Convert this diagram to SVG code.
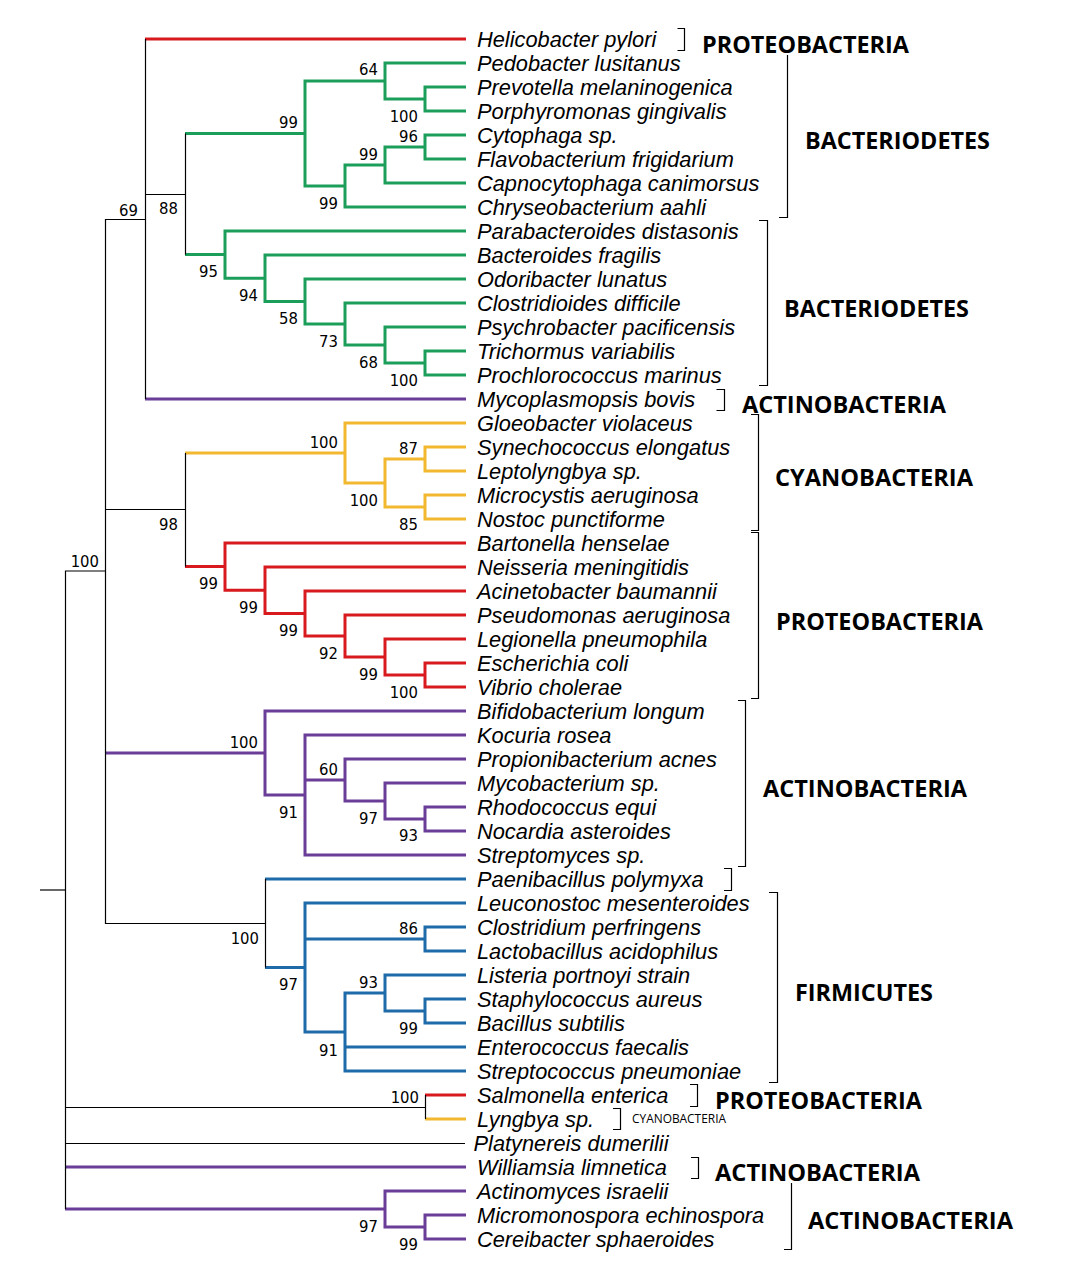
<svg xmlns="http://www.w3.org/2000/svg" width="1089" height="1264" viewBox="0 0 1089 1264">
<style>
.b{fill:none;stroke-width:3;stroke-linejoin:miter;stroke-linecap:butt}
.g{stroke:#1c9e5b}.r{stroke:#d81a1e}.y{stroke:#f2b830}.p{stroke:#6a3d98}.u{stroke:#1f6aa8}
.k{fill:none;stroke:#000;stroke-width:1.2}
.br{fill:none;stroke:#000;stroke-width:1.2}
.t{font-family:"Liberation Sans",Arial,sans-serif;font-style:italic;font-size:21.8px;fill:#000}
.s{font-family:"DejaVu Sans Condensed","DejaVu Sans","Noto Sans",sans-serif;font-size:16.5px;fill:#000;text-anchor:end}
.c{font-family:"Open Sans","Noto Sans",sans-serif;font-weight:700;font-size:24px;fill:#000}
.cs{font-family:"Open Sans","Noto Sans",sans-serif;font-size:12px;fill:#000}
</style>
<rect width="1089" height="1264" fill="#fff"/>
<g id="connectors">
<g id="green">
<path class="b g" d="M185,133.5 H305 M185,254.6 H225"/>
<path class="b g" d="M385,81 H305 V186 H345"/>
<path class="b g" d="M466,63 H385 V99 H425"/>
<path class="b g" d="M466,87 H425 V111 H466"/>
<path class="b g" d="M385,165 H345 V207 H466"/>
<path class="b g" d="M425,147 H385 V183 H466"/>
<path class="b g" d="M466,135 H425 V159 H466"/>
<path class="b g" d="M466,231 H225 V278.25 H265"/>
<path class="b g" d="M466,255 H265 V301.5 H305"/>
<path class="b g" d="M466,279 H305 V324 H345"/>
<path class="b g" d="M466,303 H345 V345 H385"/>
<path class="b g" d="M466,327 H385 V363 H425"/>
<path class="b g" d="M466,351 H425 V375 H466"/>
</g>
<g id="red">
<path class="b r" d="M145,39 H466 M185,566.6 H225 M425,1095 H466"/>
<path class="b r" d="M466,543 H225 V590.25 H265"/>
<path class="b r" d="M466,567 H265 V613.5 H305"/>
<path class="b r" d="M466,591 H305 V636 H345"/>
<path class="b r" d="M466,615 H345 V657 H385"/>
<path class="b r" d="M466,639 H385 V675 H425"/>
<path class="b r" d="M466,663 H425 V687 H466"/>
</g>
<g id="yellow">
<path class="b y" d="M185,453 H345 M425,1119 H466"/>
<path class="b y" d="M466,423 H345 V483 H385"/>
<path class="b y" d="M425,459 H385 V507 H425"/>
<path class="b y" d="M466,447 H425 V471 H466"/>
<path class="b y" d="M466,495 H425 V519 H466"/>
</g>
<g id="purple">
<path class="b p" d="M145,399 H466 M105,753 H265 M65,1167 H466 M65,1209 H385"/>
<path class="b p" d="M466,711 H265 V795 H305"/>
<path class="b p" d="M466,735 H305 V855 H466 M305,780 H345"/>
<path class="b p" d="M466,759 H345 V801 H385"/>
<path class="b p" d="M466,783 H385 V819 H425"/>
<path class="b p" d="M466,807 H425 V831 H466"/>
<path class="b p" d="M466,1191 H385 V1227 H425"/>
<path class="b p" d="M466,1215 H425 V1239 H466"/>
</g>
<g id="blue">
<path class="b u" d="M265,879 H466 M265,967.5 H305"/>
<path class="b u" d="M466,903 H305 V1032 H345 M305,939 H425"/>
<path class="b u" d="M466,927 H425 V951 H466"/>
<path class="b u" d="M385,993 H345 V1071 H466 M345,1047 H466"/>
<path class="b u" d="M466,975 H385 V1011 H425"/>
<path class="b u" d="M466,999 H425 V1023 H466"/>
</g>
<g id="black">
<path class="k" d="M40,890 H65.5"/>
<path class="k" d="M105.5,571 H65.5 V1209"/>
<path class="k" d="M65.5,1107.5 H425.5 M425.5,1095 V1119"/>
<path class="k" d="M65.5,1143.5 H465"/>
<path class="k" d="M145.5,219.5 H105.5 V923.5 H265 M105.5,509.5 H185"/>
<path class="k" d="M145.5,39 V399 M145.5,194.5 H185"/>
<path class="k" d="M185.5,133.5 V254.6"/>
<path class="k" d="M185.5,453 V566.6"/>
<path class="k" d="M265.5,879 V967.5"/>
</g>
</g>
<g id="support-values">
<text class="s" x="378" y="75">64</text>
<text class="s" x="418" y="122">100</text>
<text class="s" x="298" y="128">99</text>
<text class="s" x="418" y="142">96</text>
<text class="s" x="378" y="160">99</text>
<text class="s" x="338" y="209">99</text>
<text class="s" x="178" y="214">88</text>
<text class="s" x="138" y="216">69</text>
<text class="s" x="218" y="277">95</text>
<text class="s" x="258" y="301">94</text>
<text class="s" x="298" y="324">58</text>
<text class="s" x="338" y="347">73</text>
<text class="s" x="378" y="368">68</text>
<text class="s" x="418" y="386">100</text>
<text class="s" x="338" y="448">100</text>
<text class="s" x="418" y="454">87</text>
<text class="s" x="378" y="506">100</text>
<text class="s" x="418" y="530">85</text>
<text class="s" x="178" y="530">98</text>
<text class="s" x="99" y="567">100</text>
<text class="s" x="218" y="589">99</text>
<text class="s" x="258" y="613">99</text>
<text class="s" x="298" y="636">99</text>
<text class="s" x="338" y="659">92</text>
<text class="s" x="378" y="680">99</text>
<text class="s" x="418" y="698">100</text>
<text class="s" x="258" y="748">100</text>
<text class="s" x="338" y="775">60</text>
<text class="s" x="298" y="818">91</text>
<text class="s" x="378" y="824">97</text>
<text class="s" x="418" y="841">93</text>
<text class="s" x="418" y="934">86</text>
<text class="s" x="259" y="944">100</text>
<text class="s" x="378" y="988">93</text>
<text class="s" x="298" y="990">97</text>
<text class="s" x="418" y="1034">99</text>
<text class="s" x="338" y="1056">91</text>
<text class="s" x="419" y="1103">100</text>
<text class="s" x="378" y="1232">97</text>
<text class="s" x="418" y="1250">99</text>
</g>
<g id="taxa">
<g id="t00"><text class="t" x="477" y="46.5">Helicobacter pylori</text></g>
<g id="t01"><text class="t" x="477" y="70.5">Pedobacter lusitanus</text></g>
<g id="t02"><text class="t" x="477" y="94.5">Prevotella melaninogenica</text></g>
<g id="t03"><text class="t" x="477" y="118.5">Porphyromonas gingivalis</text></g>
<g id="t04"><text class="t" x="477" y="142.5">Cytophaga sp.</text></g>
<g id="t05"><text class="t" x="477" y="166.5">Flavobacterium frigidarium</text></g>
<g id="t06"><text class="t" x="477" y="190.5">Capnocytophaga canimorsus</text></g>
<g id="t07"><text class="t" x="477" y="214.5">Chryseobacterium aahli</text></g>
<g id="t08"><text class="t" x="477" y="238.5">Parabacteroides distasonis</text></g>
<g id="t09"><text class="t" x="477" y="262.5">Bacteroides fragilis</text></g>
<g id="t10"><text class="t" x="477" y="286.5">Odoribacter lunatus</text></g>
<g id="t11"><text class="t" x="477" y="310.5">Clostridioides difficile</text></g>
<g id="t12"><text class="t" x="477" y="334.5">Psychrobacter pacificensis</text></g>
<g id="t13"><text class="t" x="477" y="358.5">Trichormus variabilis</text></g>
<g id="t14"><text class="t" x="477" y="382.5">Prochlorococcus marinus</text></g>
<g id="t15"><text class="t" x="477" y="406.5">Mycoplasmopsis bovis</text></g>
<g id="t16"><text class="t" x="477" y="430.5">Gloeobacter violaceus</text></g>
<g id="t17"><text class="t" x="477" y="454.5">Synechococcus elongatus</text></g>
<g id="t18"><text class="t" x="477" y="478.5">Leptolyngbya sp.</text></g>
<g id="t19"><text class="t" x="477" y="502.5">Microcystis aeruginosa</text></g>
<g id="t20"><text class="t" x="477" y="526.5">Nostoc punctiforme</text></g>
<g id="t21"><text class="t" x="477" y="550.5">Bartonella henselae</text></g>
<g id="t22"><text class="t" x="477" y="574.5">Neisseria meningitidis</text></g>
<g id="t23"><text class="t" x="477" y="598.5">Acinetobacter baumannii</text></g>
<g id="t24"><text class="t" x="477" y="622.5">Pseudomonas aeruginosa</text></g>
<g id="t25"><text class="t" x="477" y="646.5">Legionella pneumophila</text></g>
<g id="t26"><text class="t" x="477" y="670.5">Escherichia coli</text></g>
<g id="t27"><text class="t" x="477" y="694.5">Vibrio cholerae</text></g>
<g id="t28"><text class="t" x="477" y="718.5">Bifidobacterium longum</text></g>
<g id="t29"><text class="t" x="477" y="742.5">Kocuria rosea</text></g>
<g id="t30"><text class="t" x="477" y="766.5">Propionibacterium acnes</text></g>
<g id="t31"><text class="t" x="477" y="790.5">Mycobacterium sp.</text></g>
<g id="t32"><text class="t" x="477" y="814.5">Rhodococcus equi</text></g>
<g id="t33"><text class="t" x="477" y="838.5">Nocardia asteroides</text></g>
<g id="t34"><text class="t" x="477" y="862.5">Streptomyces sp.</text></g>
<g id="t35"><text class="t" x="477" y="886.5">Paenibacillus polymyxa</text></g>
<g id="t36"><text class="t" x="477" y="910.5">Leuconostoc mesenteroides</text></g>
<g id="t37"><text class="t" x="477" y="934.5">Clostridium perfringens</text></g>
<g id="t38"><text class="t" x="477" y="958.5">Lactobacillus acidophilus</text></g>
<g id="t39"><text class="t" x="477" y="982.5">Listeria portnoyi strain</text></g>
<g id="t40"><text class="t" x="477" y="1006.5">Staphylococcus aureus</text></g>
<g id="t41"><text class="t" x="477" y="1030.5">Bacillus subtilis</text></g>
<g id="t42"><text class="t" x="477" y="1054.5">Enterococcus faecalis</text></g>
<g id="t43"><text class="t" x="477" y="1078.5">Streptococcus pneumoniae</text></g>
<g id="t44"><text class="t" x="477" y="1102.5">Salmonella enterica</text></g>
<g id="t45"><text class="t" x="477" y="1126.5">Lyngbya sp.</text></g>
<g id="t46"><text class="t" x="473.5" y="1150.5">Platynereis dumerilii</text></g>
<g id="t47"><text class="t" x="477" y="1174.5">Williamsia limnetica</text></g>
<g id="t48"><text class="t" x="477" y="1198.5">Actinomyces israelii</text></g>
<g id="t49"><text class="t" x="477" y="1222.5">Micromonospora echinospora</text></g>
<g id="t50"><text class="t" x="477" y="1246.5">Cereibacter sphaeroides</text></g>
</g>
<g id="groups">
<g id="grp-proteo1"><path class="br" d="M677.5,28.5 H684.5 V50.5 H677.5"/><text class="c" x="702" y="53" textLength="207" lengthAdjust="spacingAndGlyphs">PROTEOBACTERIA</text></g>
<g id="grp-bacterio1"><path class="br" d="M787.5,55 V217.5 H779"/><text class="c" x="805" y="149" textLength="185" lengthAdjust="spacingAndGlyphs">BACTERIODETES</text></g>
<g id="grp-bacterio2"><path class="br" d="M759,220.5 H767.5 V385.5 H759"/><text class="c" x="784" y="317" textLength="185" lengthAdjust="spacingAndGlyphs">BACTERIODETES</text></g>
<g id="grp-actino1"><path class="br" d="M716.5,389.5 H724.5 V410.5 H716.5"/><text class="c" x="742" y="413" textLength="204" lengthAdjust="spacingAndGlyphs">ACTINOBACTERIA</text></g>
<g id="grp-cyano1"><path class="br" d="M751,414.5 H758.5 V530.5 H751"/><text class="c" x="775" y="486" textLength="198" lengthAdjust="spacingAndGlyphs">CYANOBACTERIA</text></g>
<g id="grp-proteo2"><path class="br" d="M751,532.5 H758.5 V698.5 H751"/><text class="c" x="776" y="630" textLength="207" lengthAdjust="spacingAndGlyphs">PROTEOBACTERIA</text></g>
<g id="grp-actino2"><path class="br" d="M738,700.5 H745.5 V866.5 H738"/><text class="c" x="763" y="797" textLength="204" lengthAdjust="spacingAndGlyphs">ACTINOBACTERIA</text></g>
<g id="grp-paeni"><path class="br" d="M724,868.5 H731.5 V890.5 H724"/></g>
<g id="grp-firmi"><path class="br" d="M769,892.5 H777.5 V1082.5 H769"/><text class="c" x="795" y="1001" textLength="138" lengthAdjust="spacingAndGlyphs">FIRMICUTES</text></g>
<g id="grp-proteo3"><path class="br" d="M690,1084.5 H697.5 V1106.5 H690"/><text class="c" x="715" y="1109" textLength="207" lengthAdjust="spacingAndGlyphs">PROTEOBACTERIA</text></g>
<g id="grp-cyano2"><path class="br" d="M613,1108.5 H620.5 V1129.5 H613"/><text class="cs" x="632" y="1123" textLength="94" lengthAdjust="spacingAndGlyphs">CYANOBACTERIA</text></g>
<g id="grp-actino3"><path class="br" d="M691,1157.5 H698.5 V1178.5 H691"/><text class="c" x="715" y="1181" textLength="205" lengthAdjust="spacingAndGlyphs">ACTINOBACTERIA</text></g>
<g id="grp-actino4"><path class="br" d="M791.5,1183 V1249.5 H784"/><text class="c" x="808" y="1229" textLength="205" lengthAdjust="spacingAndGlyphs">ACTINOBACTERIA</text></g>
</g>
</svg>
